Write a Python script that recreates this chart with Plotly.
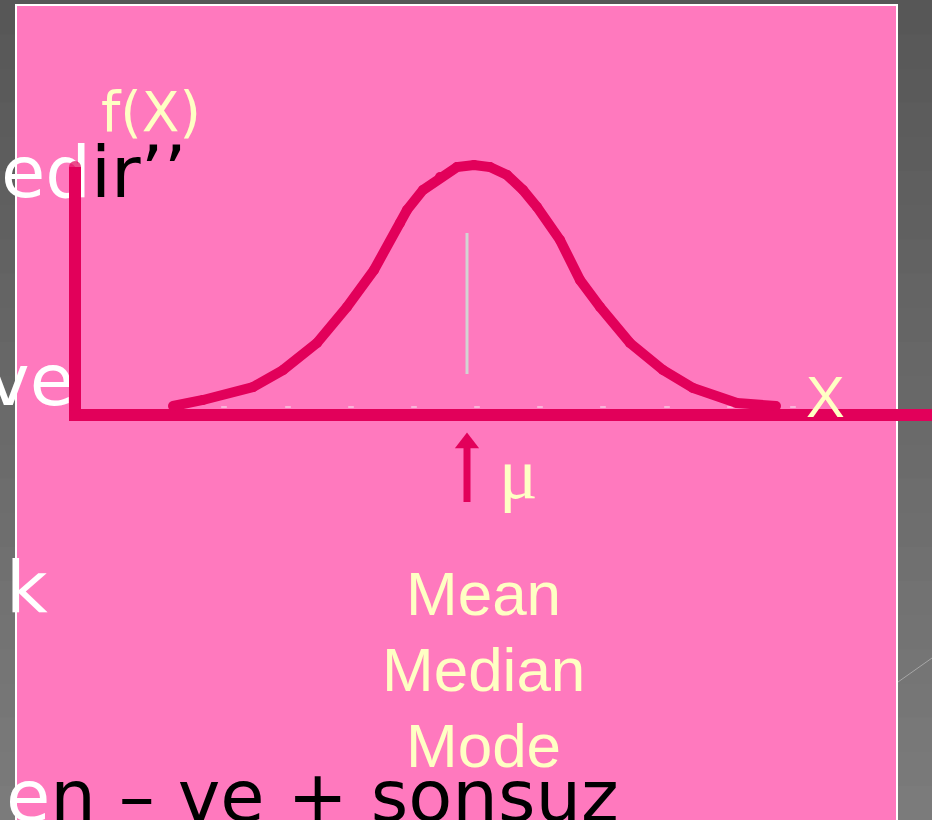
import plotly.graph_objects as go

# ---------------- data ----------------
# normal curve f(X) sampled along X (in sigma units, mean = 0)
curve_x = [-3.01, -2.71, -2.21, -1.91, -1.57, -1.27, -1.00, -0.74, -0.67, -0.51,
           -0.34, -0.17, 0.00, 0.16, 0.33, 0.49, 0.63, 0.86, 1.06, 1.26,
           1.56, 1.89, 2.19, 2.63, 3.02]
curve_y = [9, 15, 28, 45, 72, 108, 145, 192, 205, 225,
           238, 248, 250, 248, 240, 225, 208, 175, 135, 108,
           72, 45, 27, 12, 9]
mean_value = -0.07
mean_line_y = [41, 182]
tick_x = [-2.50, -1.86, -1.23, -0.60, 0.03, 0.66, 1.29, 1.93, 2.56, 3.19]
tick_y = [8] * len(tick_x)
axis_origin_x = -3.99
axis_top_y = 248
axis_end_x = 4.70

label_fx = "f(X)"
label_x = "X"
label_mu = "μ"
center_labels = ["Mean", "Median", "Mode"]

# ---------------- layout helpers (pixels -> axis units) ----------------
W, H = 932, 820
PX0, PXS = 474, 100.0   # pixel of x=0, pixels per unit
PY0 = 415               # pixel of y=0 (1 unit per pixel)
X_RANGE = [(0 - PX0) / PXS, (W - PX0) / PXS]
Y_RANGE = [PY0 - H, PY0]

def ax(px):
    return (px - PX0) / PXS

def ay(py):
    return PY0 - py

PINK = "#FF79BE"
MAGENTA = "#E2005A"
CREAM = "#FFFFC4"

fig = go.Figure()

# background texts of the slide (drawn under the lines)
bg_font = dict(family="DejaVu Sans", size=72, color="black")
fig.add_trace(go.Scatter(
    x=[ax(1), ax(6), ax(6)],
    y=[ay(179), ay(594), ay(803)],
    mode="text",
    text=["<span style='color:white'>ed</span>ir’’",
          "<span style='color:white'>k</span>",
          "<span style='color:white'>e</span>n – ve + sonsuz"],
    textposition="middle right",
    textfont=bg_font,
    hoverinfo="skip", showlegend=False, cliponaxis=False,
))
fig.add_trace(go.Scatter(
    x=[ax(74)], y=[ay(387)],
    mode="text",
    text=["<span style='color:white'>ve</span>"],
    textposition="middle left",
    textfont=bg_font,
    hoverinfo="skip", showlegend=False, cliponaxis=False,
))

# axes drawn as thick L
fig.add_trace(go.Scatter(
    x=[axis_origin_x, axis_origin_x, axis_end_x],
    y=[axis_top_y, 0, 0],
    mode="lines+markers",
    line=dict(color=MAGENTA, width=12),
    marker=dict(size=[12, 12, 0], color=MAGENTA, line=dict(width=0)),
    hoverinfo="skip", showlegend=False,
))

# mean line
fig.add_trace(go.Scatter(
    x=[mean_value, mean_value], y=mean_line_y, mode="lines",
    line=dict(color="#D3D3D3", width=3),
    hoverinfo="skip", showlegend=False,
))

# small tick dashes
fig.add_trace(go.Scatter(
    x=tick_x, y=tick_y, mode="markers",
    marker=dict(symbol="line-ew", size=4, line=dict(color="#F4F4F4", width=1)),
    hoverinfo="skip", showlegend=False,
))

# the curve
fig.add_trace(go.Scatter(
    x=curve_x, y=curve_y, mode="lines+markers",
    line=dict(color=MAGENTA, width=10),
    marker=dict(size=10, color=MAGENTA, line=dict(width=0)),
    hoverinfo="skip", showlegend=False,
))

# arrow pointing to mu
fig.add_trace(go.Scatter(
    x=[mean_value, mean_value], y=[ay(502), ay(448)], mode="lines",
    line=dict(color=MAGENTA, width=7),
    hoverinfo="skip", showlegend=False,
))
fig.add_trace(go.Scatter(
    x=[mean_value], y=[ay(443)], mode="markers",
    marker=dict(symbol="triangle-up", size=21, color=MAGENTA, line=dict(width=0)),
    hoverinfo="skip", showlegend=False,
))

# background gradient + pink panel
shapes = []
n = 24
for i in range(n):
    t = i / (n - 1)
    v = int(round(0x57 + (0x7B - 0x57) * t))
    col = f"rgb({v},{v},{v})"
    shapes.append(dict(type="rect", xref="paper", yref="paper",
                       x0=0, x1=1, y0=1 - (i + 1) / n - 0.001, y1=1 - i / n,
                       fillcolor=col, line=dict(width=0), layer="below"))
shapes.append(dict(type="line", xref="paper", yref="paper",
                   x0=898 / W, x1=1, y0=1 - 682 / H, y1=1 - 658 / H,
                   line=dict(color="rgba(200,200,200,0.6)", width=1), layer="below"))
shapes.append(dict(type="rect", xref="paper", yref="paper",
                   x0=16 / W, x1=897 / W, y0=-0.05, y1=1 - 5 / H,
                   fillcolor=PINK, line=dict(color="white", width=2), layer="below"))

label_font = dict(family="Liberation Sans", size=62, color=CREAM)
annotations = [
    dict(x=ax(151), y=ay(112), text=label_fx, showarrow=False,
         font=dict(family="DejaVu Sans", size=55, color=CREAM),
         xanchor="center", yanchor="middle"),
    dict(x=ax(825), y=ay(396), text=label_x, showarrow=False,
         font=dict(family="Liberation Sans", size=58, color=CREAM),
         xanchor="center", yanchor="middle"),
    dict(x=ax(518), y=ay(474), text=label_mu, showarrow=False,
         font=dict(family="Liberation Serif", size=72, color=CREAM),
         xanchor="center", yanchor="middle"),
]
for i, lab in enumerate(center_labels):
    annotations.append(dict(x=ax(483), y=ay(593 + 76 * i), text=lab, showarrow=False,
                            font=label_font, xanchor="center", yanchor="middle"))

fig.update_layout(
    width=W, height=H,
    margin=dict(l=0, r=0, t=0, b=0),
    paper_bgcolor="#6A6A6A", plot_bgcolor="rgba(0,0,0,0)",
    xaxis=dict(range=X_RANGE, visible=False, fixedrange=True),
    yaxis=dict(range=Y_RANGE, visible=False, fixedrange=True),
    shapes=shapes, annotations=annotations,
    showlegend=False,
)

fig.write_html("out.html", config={"displayModeBar": False},
               post_script="document.body.style.margin='0px';document.body.style.overflow='hidden';")
